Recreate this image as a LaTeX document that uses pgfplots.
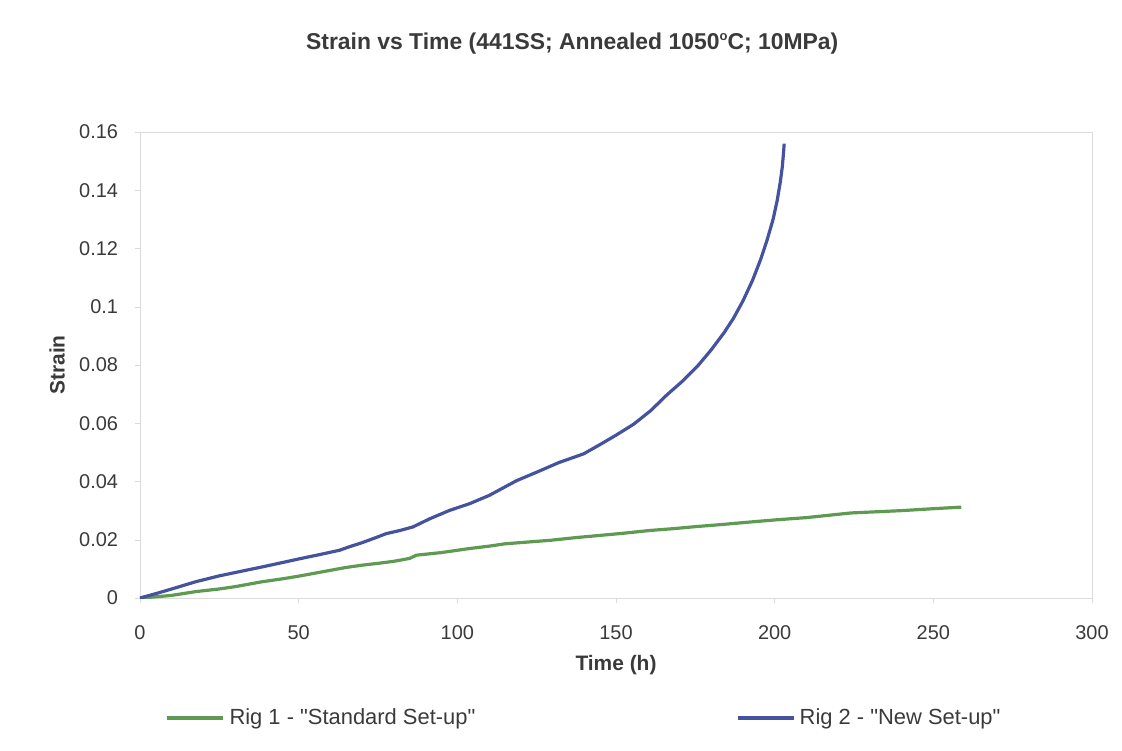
\documentclass[border=0pt]{standalone}
\usepackage{fontspec}
\setmainfont{Liberation Sans}[Ligatures=TeXOff]
\usepackage{pgfplots}
\pgfplotsset{compat=1.18}

\definecolor{rigblue}{HTML}{45529E}
\definecolor{riggreen}{HTML}{5E9A52}
\definecolor{framegray}{HTML}{DADADA}
\definecolor{labelgray}{HTML}{3A3A3A}

% Creep strain against time, two rigs
\pgfplotstableread{
t      strain
0      0
5      0.0015
10     0.0031
17.6   0.0056
25     0.0076
32     0.0092
38.6   0.0107
45     0.0122
50     0.0134
57     0.0150
62.9   0.0164
66     0.0176
70     0.0190
74     0.0206
77.6   0.0221
82     0.0232
86     0.0244
91.3   0.0272
97.6   0.0301
103.9  0.0324
110    0.0352
118.7  0.0403
125    0.0432
132    0.0465
139.8  0.0495
145    0.0527
150    0.0559
155.6  0.0597
161    0.0644
166    0.0697
171    0.0745
176    0.0800
180    0.0852
184    0.0910
187    0.0960
190    0.1020
193    0.1090
195.5  0.1160
197.5  0.1225
199.5  0.1300
200.8  0.1365
201.8  0.1430
202.4  0.1480
202.8  0.1530
203    0.1560
}\rigtwo

\pgfplotstableread{
t      strain
0      0
5      0.0004
10     0.0009
17.6   0.0022
25     0.0031
30     0.0039
38.6   0.0056
45     0.0066
50     0.0075
55     0.0085
60     0.0095
65     0.0105
70.2   0.0113
75     0.0119
80     0.0126
85     0.0136
87.1   0.0147
95     0.0156
103.9  0.0170
110    0.0178
115    0.0186
122    0.0192
129.2  0.0198
137    0.0207
145    0.0215
152    0.0222
160.8  0.0232
168    0.0238
175    0.0245
183    0.0252
192.4  0.0261
200    0.0268
210    0.0276
217    0.0284
224    0.0292
232    0.0296
240    0.0300
249    0.0306
258.8  0.0312
}\rigone

\begin{document}
\begin{tikzpicture}
\begin{axis}[
  name=ax,
  scale only axis,
  width=476bp, height=233bp,
  xmin=0, xmax=300, ymin=0, ymax=0.16,
  xtick={0,50,100,150,200,250,300},
  ytick={0,0.02,0.04,0.06,0.08,0.1,0.12,0.14,0.16},
  axis line style={framegray},
  tick style={framegray},
  tick align=outside,
  xtick pos=bottom, ytick pos=left,
  major tick length=2.5bp,
  /pgf/number format/assume math mode=true,
  ticklabel style={font=\fontsize{10}{12}\selectfont, text=labelgray},
  yticklabel style={/pgf/number format/fixed, /pgf/number format/precision=2, xshift=-5bp},
  xticklabel style={yshift=-8bp},
  xlabel={Time (h)},
  ylabel={Strain},
  label style={font=\bfseries\fontsize{10.5}{12}\selectfont, text=labelgray},
  xlabel style={at={(axis description cs:0.5,-0.144)}, anchor=center},
  ylabel style={at={(axis description cs:-0.087,0.5)}, anchor=center},
  title={Strain vs Time (441SS; Annealed 1050\raisebox{0.75ex}{\fontsize{6.5}{7}\selectfont o}C; 10MPa)},
  title style={at={(axis description cs:0.454,1.165)}, anchor=center,
               font=\bfseries\fontsize{11.5}{13}\selectfont, text=labelgray},
  legend columns=2,
  legend style={at={(axis description cs:0.026,-0.2575)}, anchor=west,
                draw=none, fill=none, inner sep=0pt,
                font=\fontsize{11}{13}\selectfont, text=labelgray,
                /tikz/every even column/.append style={column sep=128bp}},
  legend cell align=left,
  legend image code/.code={\draw[#1, line width=2.2bp] (0bp,0bp) -- (28bp,0bp);},
]
\addplot[riggreen, line width=1.6bp, line join=round] table[x=t, y=strain] {\rigone};
\addlegendentry{Rig 1 - "Standard Set-up"}
\addplot[rigblue, line width=1.6bp, line join=round] table[x=t, y=strain] {\rigtwo};
\addlegendentry{Rig 2 - "New Set-up"}
\end{axis}
\path (ax.south west) ++(-70bp,-76.5bp) rectangle ++(561bp,375.5bp);
\end{tikzpicture}
\end{document}
